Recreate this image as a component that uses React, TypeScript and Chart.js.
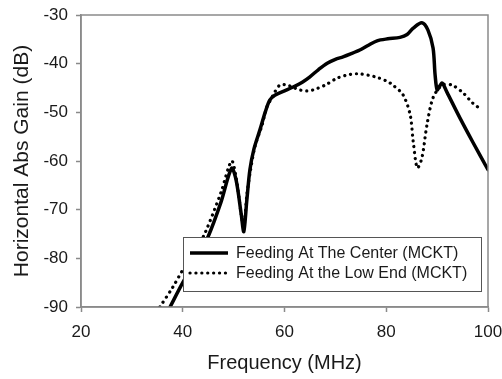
import React, { useEffect, useRef } from "react";
import { Chart, registerables } from "chart.js";

Chart.register(...registerables);

// Series: Feeding At The Center (MCKT)
const centerFreq = [
  37.5, 40, 42.5, 45, 47.5, 49.6, 50.5, 51.5, 52, 52.6, 53.2, 54, 55.2, 56.2, 57.1, 58.1,
  60, 61.7, 63.5, 65, 66.7, 68.4, 70, 71.5, 73, 74.8, 76.5, 78.2, 80.3, 82.7, 84.1, 85.3,
  87, 88.2, 89.2, 89.6, 90, 90.5, 91, 91.9, 94.5, 97, 100,
];
const centerGain = [
  -90, -85, -80.5, -75.5, -68.5, -61.5, -64, -71, -74.5, -68, -61.8, -57.5, -53.5, -50, -47.5, -46.5,
  -45.6, -44.8, -43.8, -42.7, -41.2, -39.9, -39.1, -38.6, -38, -37.2, -36.2, -35.3, -34.9, -34.6, -34, -32.7,
  -31.6, -33.1, -36.8, -42.3, -45.4, -44.6, -44, -45.8, -51.2, -56.1, -61.8,
];

// Series: Feeding At the Low End (MCKT)
const lowFreq = [
  35.5, 38, 40, 42.5, 44.5, 47.5, 49.6, 50.5, 51.5, 52, 52.6, 53.3, 54.2, 55.6, 56.5, 57.5,
  58.1, 59.1, 60.5, 62, 63, 64.4, 65.6, 68, 70.3, 72.9, 74.8, 77.8, 80.1, 81.3, 83.3, 84.7,
  85.3, 86.1, 87, 88, 89.2, 91, 92.9, 95.1, 97, 98.8,
];
const lowGain = [
  -90, -86, -82.4, -78.5, -74.5, -66.5, -60, -63.5, -71, -73.5, -67, -62, -57, -52.6, -49, -47,
  -45.8, -44.4, -44.4, -45, -45.4, -45.6, -45.4, -44.4, -43, -42.2, -42.1, -42.7, -43.6, -44.4, -46.4, -50.5,
  -56, -61.4, -59.4, -52.6, -47, -44.4, -44.4, -46, -48.1, -49.5,
];

const seriesLabels = ["Feeding At The Center (MCKT)", "Feeding At the Low End (MCKT)"];
const xTicks = [20, 40, 60, 80, 100];
const yTicks = [-90, -80, -70, -60, -50, -40, -30];
const xTitle = "Frequency (MHz)";
const yTitle = "Horizontal Abs Gain (dB)";

const FONT = "'Liberation Sans', Arial, sans-serif";
const AXIS_GRAY = "#8a8a8a";
const TEXT = "#1a1a1a";

const framePlugin = {
  id: "frame",
  afterDatasetsDraw(chart: any) {
    const { ctx, chartArea: a } = chart;
    ctx.save();
    ctx.strokeStyle = AXIS_GRAY;
    ctx.lineWidth = 1.5;
    ctx.strokeRect(a.left, a.top, a.right - a.left, a.bottom - a.top);
    ctx.restore();
  },
};

const legendPlugin = {
  id: "boxLegend",
  afterDraw(chart: any) {
    const { ctx, chartArea: a } = chart;
    const x0 = a.left + 102;
    const y0 = a.top + 222;
    const w = 298;
    const h = 54;
    ctx.save();
    ctx.fillStyle = "#ffffff";
    ctx.fillRect(x0, y0, w, h);
    ctx.strokeStyle = "#555555";
    ctx.lineWidth = 1;
    ctx.strokeRect(x0 + 0.5, y0 + 0.5, w, h);
    const rows = [y0 + 16, y0 + 36];
    chart.data.datasets.forEach((ds: any, i: number) => {
      const y = rows[i];
      ctx.beginPath();
      ctx.strokeStyle = "#000";
      ctx.lineWidth = ds.borderWidth;
      ctx.lineCap = i === 0 ? "butt" : "round";
      ctx.setLineDash(ds.borderDash || []);
      ctx.moveTo(x0 + 7, y);
      ctx.lineTo(x0 + 45, y);
      ctx.stroke();
      ctx.setLineDash([]);
      ctx.fillStyle = TEXT;
      ctx.font = `16px ${FONT}`;
      ctx.textBaseline = "middle";
      ctx.textAlign = "left";
      ctx.fillText(ds.label, x0 + 53, y + 1);
    });
    ctx.restore();
  },
};

export default function App() {
  const ref = useRef<HTMLCanvasElement>(null);
  useEffect(() => {
    document.body.style.margin = "0";
    const canvas = ref.current!;
    const chart = new Chart(canvas, {
      type: "line",
      data: {
        datasets: [
          {
            label: seriesLabels[0],
            data: centerFreq.map((f, i) => ({ x: f, y: centerGain[i] })),
            borderColor: "#000",
            borderWidth: 3.5,
            pointRadius: 0,
            tension: 0.3,
            fill: false,
            borderCapStyle: "round",
            borderJoinStyle: "round",
          },
          {
            label: seriesLabels[1],
            data: lowFreq.map((f, i) => ({ x: f, y: lowGain[i] })),
            borderColor: "#000",
            borderWidth: 3.2,
            borderDash: [0.1, 5.8],
            borderCapStyle: "round",
            pointRadius: 0,
            tension: 0.3,
            fill: false,
          },
        ],
      },
      options: {
        responsive: false,
        animation: false,
        layout: { padding: { left: 0, top: 15, right: 14, bottom: 0 } },
        plugins: { legend: { display: false }, tooltip: { enabled: false } },
        scales: {
          x: {
            type: "linear",
            min: 20,
            max: 100,
            afterBuildTicks: (s: any) => {
              s.ticks = xTicks.map((v) => ({ value: v }));
            },
            afterFit: (s: any) => {
              s.height = 72;
              s.paddingLeft = 0;
              s.paddingRight = 0;
            },
            ticks: { color: TEXT, font: { family: FONT, size: 17 }, padding: 10, maxRotation: 0, autoSkip: false },
            grid: { display: true, drawOnChartArea: false, drawTicks: true, tickLength: 5, tickColor: AXIS_GRAY, tickWidth: 1.5 },
            border: { display: true, color: AXIS_GRAY, width: 1.5 },
            title: { display: true, text: xTitle, color: TEXT, font: { family: FONT, size: 20 }, padding: { top: 0, bottom: 4 } },
          },
          y: {
            type: "linear",
            min: -90,
            max: -30,
            afterBuildTicks: (s: any) => {
              s.ticks = yTicks.map((v) => ({ value: v }));
            },
            afterFit: (s: any) => {
              s.width = 81;
              s.paddingTop = 0;
              s.paddingBottom = 0;
            },
            ticks: { color: TEXT, font: { family: FONT, size: 17 }, padding: 8, autoSkip: false },
            grid: { display: true, drawOnChartArea: false, drawTicks: true, tickLength: 5, tickColor: AXIS_GRAY, tickWidth: 1.5 },
            border: { display: true, color: AXIS_GRAY, width: 1.5 },
            title: { display: true, text: yTitle, color: TEXT, font: { family: FONT, size: 21 }, padding: { top: 10, bottom: 0 } },
          },
        },
      },
      plugins: [framePlugin, legendPlugin],
    } as any);
    return () => chart.destroy();
  }, []);
  return (
    <div style={{ width: 502, height: 379 }}>
      <canvas ref={ref} width={502} height={379} style={{ display: "block" }} />
    </div>
  );
}
